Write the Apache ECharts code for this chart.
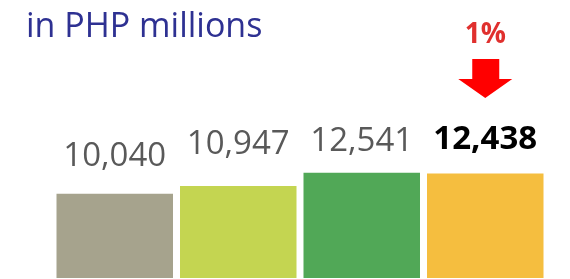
<!DOCTYPE html>
<html>
<head>
<meta charset="utf-8">
<script src="https://cdn.jsdelivr.net/npm/echarts@6/dist/echarts.min.js"></script>
<style>
  html, body { margin: 0; padding: 0; background: #fff; }
  #chart { width: 570px; height: 279px; }
</style>
</head>
<body>
<div id="chart"></div>
<script>
// values in PHP millions
var categories = ['A', 'B', 'C', 'D'];
var values = [10040, 10947, 12541, 12438];
var changeLabel = '1%';

var barColors = ['#A6A38D', '#C4D551', '#51A857', '#F5BE3F'];
var labelGaps = [21, 25, 15, 17];

var chart = echarts.init(document.getElementById('chart'));

var barData = values.map(function(v, i) {
  var last = i === values.length - 1;
  return {
    value: v,
    itemStyle: { color: barColors[i] },
    label: {
      distance: labelGaps[i],
      color: last ? '#000' : '#595959',
      fontWeight: last ? 'bold' : 'normal'
    }
  };
});

chart.setOption({
  animation: false,
  title: {
    text: 'in PHP millions',
    left: 21,
    top: 5,
    textStyle: { fontFamily: 'Open Sans', fontSize: 34, fontWeight: 'normal', color: '#2E3192' }
  },
  grid: { left: 53, right: 23, top: 26, bottom: 1 },
  xAxis: {
    type: 'category',
    data: categories,
    axisLine: { show: false },
    axisTick: { show: false },
    axisLabel: { show: false }
  },
  yAxis: {
    type: 'value',
    min: 0,
    max: 30000,
    show: false,
    splitLine: { show: false }
  },
  series: [{
    type: 'bar',
    data: barData,
    barCategoryGap: 7,
    label: {
      show: true,
      position: 'top',
      fontFamily: 'Open Sans',
      fontSize: 33,
      formatter: function(p) { return p.value.toLocaleString('en-US'); }
    },
    markPoint: {
      silent: true,
      data: [{
        coord: [values.length - 1, values[values.length - 1]],
        symbol: 'path://M14,0 L41,0 L41,20 L54,20 L27,39 L0,20 L14,20 Z',
        symbolSize: [54, 39],
        symbolOffset: [0, -95],
        itemStyle: { color: '#FF0000' },
        label: {
          show: true,
          position: 'top',
          distance: 10,
          formatter: changeLabel,
          fontFamily: 'Open Sans',
          fontWeight: 'bold',
          fontSize: 28,
          color: '#E0302E'
        }
      }]
    }
  }]
});
</script>
</body>
</html>
